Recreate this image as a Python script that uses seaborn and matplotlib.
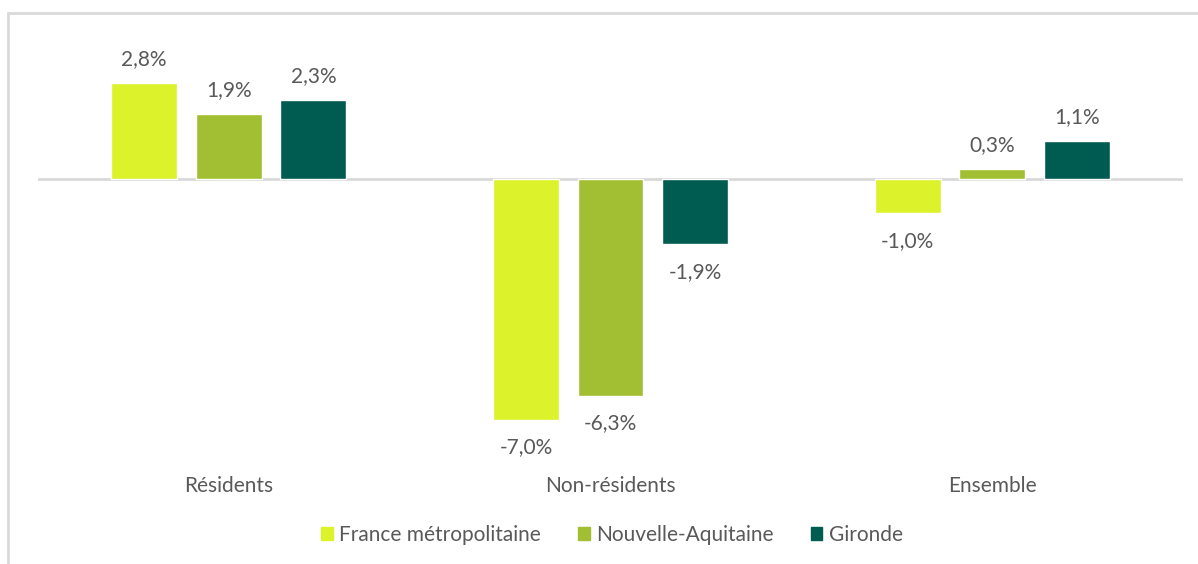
import pandas as pd
import seaborn as sns
import matplotlib.pyplot as plt
from matplotlib.lines import Line2D

# données
categories = ["Résidents", "Non-résidents", "Ensemble"]
zones = ["France métropolitaine", "Nouvelle-Aquitaine", "Gironde"]
france = [2.8, -7.0, -1.0]
aquitaine = [1.9, -6.3, 0.3]
gironde = [2.3, -1.9, 1.1]
couleurs = ["#DCF22A", "#A2BF33", "#005C50"]

df = pd.DataFrame({
    "categorie": categories * 3,
    "zone": [zones[0]] * 3 + [zones[1]] * 3 + [zones[2]] * 3,
    "valeur": france + aquitaine + gironde,
})

sns.set_theme(style="white")
plt.rcParams["font.family"] = ["Lato", "DejaVu Sans"]
gris = "#595959"
taille = 15

fig = plt.figure(figsize=(11.98, 5.64), dpi=100)
ax = fig.add_axes([38 / 1198, 99 / 564, (1183 - 38) / 1198, 425 / 564])

sns.barplot(data=df, x="categorie", y="valeur", hue="zone", order=categories,
            hue_order=zones, palette=couleurs, width=0.665, gap=0.22,
            saturation=1, legend=False, ax=ax)

ax.set_xlim(-0.5, 2.5)
ax.set_ylim(-(465 - 179) / 34.4, (179 - 40) / 34.4)
ax.axhline(0, color="#D9D9D9", lw=2, zorder=0.5)
for s in ax.spines.values():
    s.set_visible(False)
ax.set_yticks([])
ax.set_xlabel("")
ax.set_ylabel("")
ax.tick_params(axis="x", length=0, pad=8, labelsize=taille, labelcolor=gris)

# étiquettes de données
for cont in ax.containers:
    for bar in cont:
        v = bar.get_height()
        x = bar.get_x() + bar.get_width() / 2
        txt = f"{v:.1f}%".replace(".", ",")
        off = 17 if v >= 0 else -20
        ax.annotate(txt, (x, v), xytext=(0, off), textcoords="offset points",
                    ha="center", va="center", fontsize=taille, color=gris)

# légende
handles = [plt.Rectangle((0, 0), 1, 1, color=c) for c in couleurs]
fig.legend(handles, zones, loc="center", bbox_to_anchor=(612 / 1198, 29 / 564),
           ncol=3, frameon=False, fontsize=taille, labelcolor=gris,
           handlelength=0.55, handleheight=0.55, handletextpad=0.3,
           columnspacing=1.8)

# cadre
fig.add_artist(Line2D([8 / 1198, 1], [1 - 13 / 564] * 2, transform=fig.transFigure,
                      color="#D9D9D9", lw=2))
fig.add_artist(Line2D([8 / 1198] * 2, [0, 1 - 13 / 564], transform=fig.transFigure,
                      color="#D9D9D9", lw=2))

fig.savefig("out.png", dpi=100)
